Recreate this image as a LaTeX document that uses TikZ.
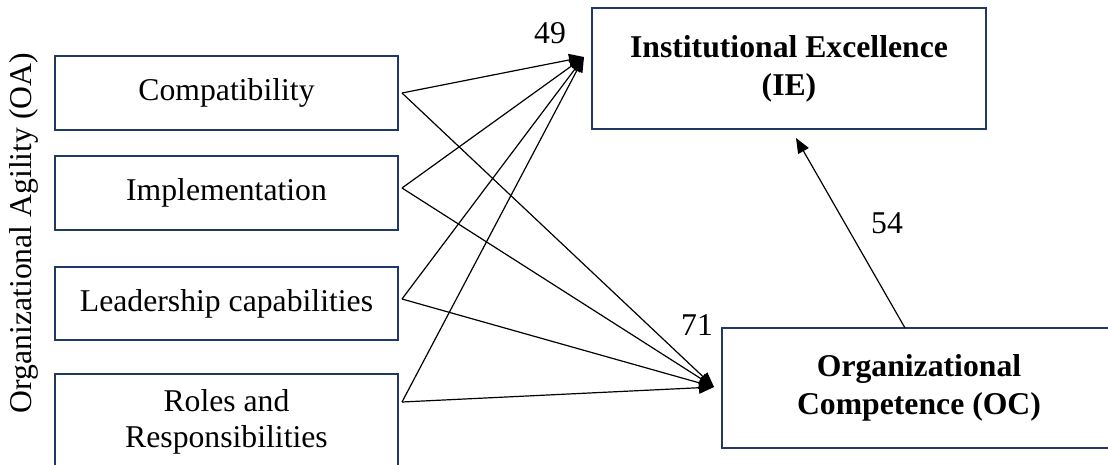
\documentclass[tikz,border=0pt]{standalone}
\usepackage{fontspec}
\setmainfont{Liberation Serif}
\usetikzlibrary{arrows.meta}
\definecolor{boxblue}{RGB}{31,56,100}
\begin{document}
\begin{tikzpicture}[x=1pt,y=-1pt,
  txt/.style={font=\fontsize{31.7}{36}\selectfont},
  box/.style={txt,draw=boxblue,line width=2.6pt,inner sep=0pt,align=center,fill=white},
  bbox/.style={box,font=\fontsize{31.7}{38}\selectfont\bfseries},
  conn/.style={line width=1.2pt,-{Triangle[length=15pt,width=12pt]}}]
\clip (0,0) rectangle (1108,464);
\fill[white] (0,0) rectangle (1108,464);
% left boxes
\node[box,minimum width=343pt,minimum height=74pt] (comp) at (226.5,93) {Compatibility};
\node[box,minimum width=343pt,minimum height=74pt] (impl) at (226.5,193) {Implementation};
\node[box,minimum width=343pt,minimum height=73pt] (lead) at (226.5,303.5) {Leadership capabilities};
\node[box,minimum width=343pt,minimum height=96pt] (roles) at (226.5,422) {Roles and\\Responsibilities};
% right boxes
\node[bbox,minimum width=394pt,minimum height=121pt] (ie) at (789,68.5) {Institutional Excellence\\(IE)};
\node[bbox,minimum width=394pt,minimum height=120pt] (oc) at (919,388) {Organizational\\Competence (OC)};
% side label
\node[txt,rotate=90] (oa) at (24,233) {Organizational Agility (OA)};
% connector points
\coordinate (ietip) at (584,57);
\coordinate (octip) at (714,387);
\coordinate (cs) at (402,93);
\coordinate (is) at (402,188);
\coordinate (ls) at (402,299);
\coordinate (rs) at (402,402);
\coordinate (ocs) at (905,328);
\coordinate (ieb) at (796,138);
% connectors
\foreach \s in {cs,is,ls,rs}{
  \draw[conn] (\s) -- (ietip);
  \draw[conn] (\s) -- (octip);
}
\draw[conn] (ocs) -- (ieb);
% labels
\node[txt] (l49) at (550,33) {49};
\node[txt] (l71) at (697,325) {71};
\node[txt] (l54) at (887,223) {54};
\end{tikzpicture}
\end{document}
